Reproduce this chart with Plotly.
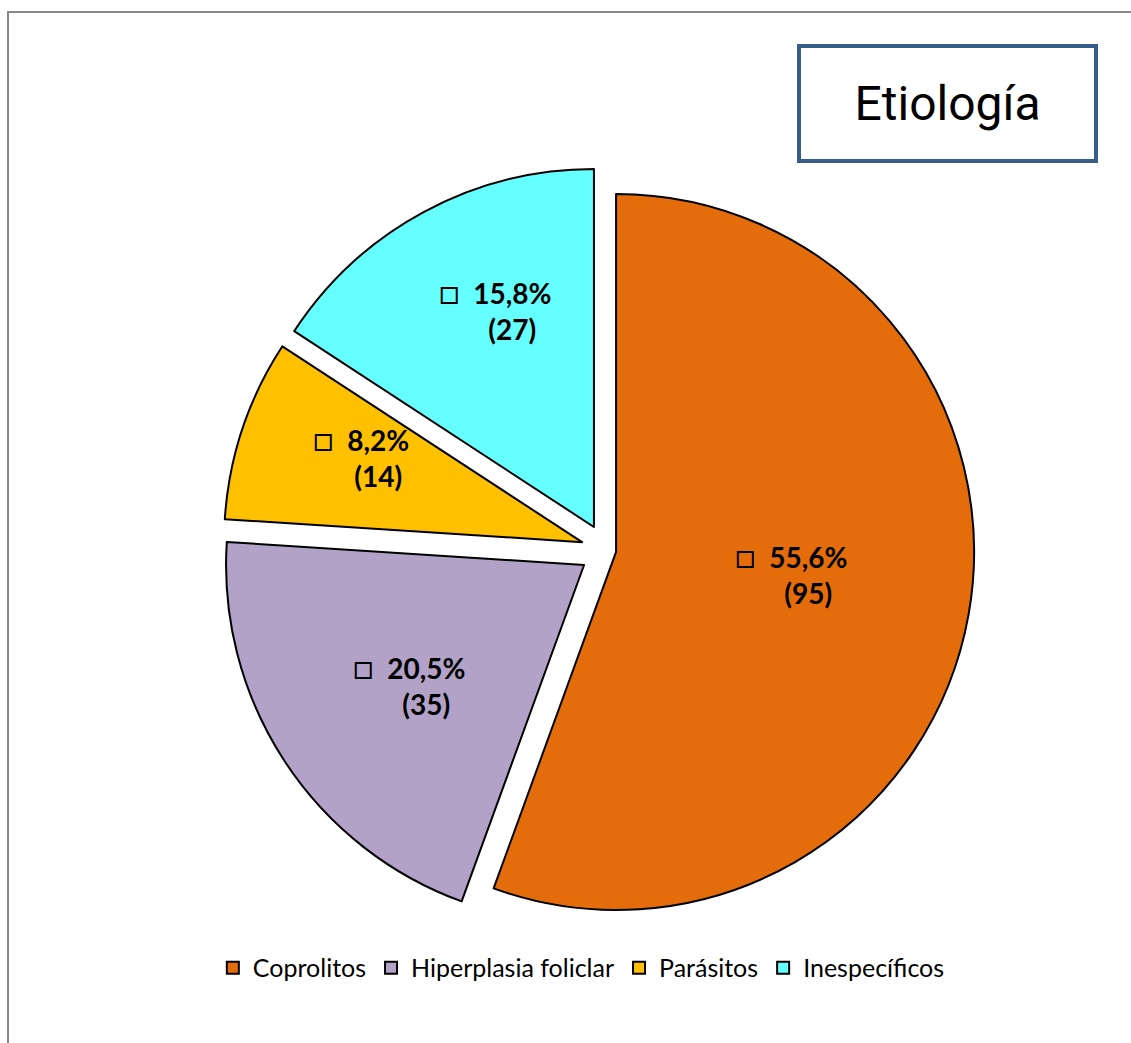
import math
import plotly.graph_objects as go

categories = ["Coprolitos", "Hiperplasia foliclar", "Parásitos", "Inespecíficos"]
values = [95, 35, 14, 27]
colors = ["#E46C0A", "#B3A2C7", "#FFC000", "#66FFFF"]
pulls = [0.027, 0.075, 0.072, 0.074]
title_text = "Etiología"

# label placement inside each slice (fraction of slice sweep, fraction of radius)
label_angle_frac = [0.48, 0.45, 0.65, 0.64]
label_radius_frac = [0.54, 0.55, 0.62, 0.65]

W, H = 1131, 1043
dom_x = [0.196, 0.8766]
dom_y = [0.1034, 0.8414]

fig = go.Figure(go.Pie(
    labels=categories, values=values, sort=False, direction="clockwise", rotation=0,
    pull=pulls,
    marker=dict(colors=colors, line=dict(color="black", width=2)),
    textinfo="none",
    domain=dict(x=dom_x, y=dom_y),
    hoverinfo="label+value+percent",
))

# labels positioned from the data (slice angles) and the pie geometry
total = sum(values)
cx = (dom_x[0] + dom_x[1]) / 2 * W
cy = (1 - (dom_y[0] + dom_y[1]) / 2) * H
R = min((dom_x[1] - dom_x[0]) * W, (dom_y[1] - dom_y[0]) * H) / 2 / (1 + max(pulls))
cum = 0
sq = "<span style='font-size:33px'>□</span>"
sq_hidden = "<span style='font-size:33px;color:rgba(0,0,0,0)'>□</span>"
for v, p, af, rf in zip(values, pulls, label_angle_frac, label_radius_frac):
    start = cum / total * 360
    sweep = v / total * 360
    cum += v
    mid = math.radians(start + sweep / 2)
    ang = math.radians(start + sweep * af)
    ox = cx + p * R * math.sin(mid) + rf * R * math.sin(ang)
    oy = cy - p * R * math.cos(mid) - rf * R * math.cos(ang)
    pct = f"{v / total * 100:.1f}".replace(".", ",")
    txt = f"{sq}  <b>{pct}%</b>  {sq_hidden}<br><b>({v})</b>"
    fig.add_annotation(
        text=txt, xref="paper", yref="paper", x=ox / W, y=1 - oy / H,
        xanchor="center", yanchor="middle", showarrow=False,
        font=dict(family="Lato", size=28, color="black"),
    )

fig.add_annotation(
    text=title_text, xref="paper", yref="paper", x=0.8377, y=0.9008,
    showarrow=False, font=dict(family="Roboto", size=48, color="black"),
    bordercolor="#385D8A", borderwidth=4, borderpad=0, width=293, height=111,
    bgcolor="white", xanchor="center", yanchor="middle",
)

fig.add_shape(type="path", xref="paper", yref="paper",
              path="M 0.0071,0 L 0.0071,0.9885 L 1.0,0.9885",
              line=dict(color="#888888", width=2))

fig.update_layout(
    width=W, height=H,
    margin=dict(l=0, r=0, t=0, b=0),
    paper_bgcolor="white", plot_bgcolor="white",
    separators=",.",
    showlegend=True,
    legend=dict(orientation="h", x=0.514, xanchor="center", y=0.072, yanchor="middle",
                font=dict(family="Lato", size=25, color="black"),
                itemwidth=30, traceorder="normal"),
)

fig.write_html("out.html", config={"displayModeBar": False},
               post_script="document.body.style.margin='0px';")
